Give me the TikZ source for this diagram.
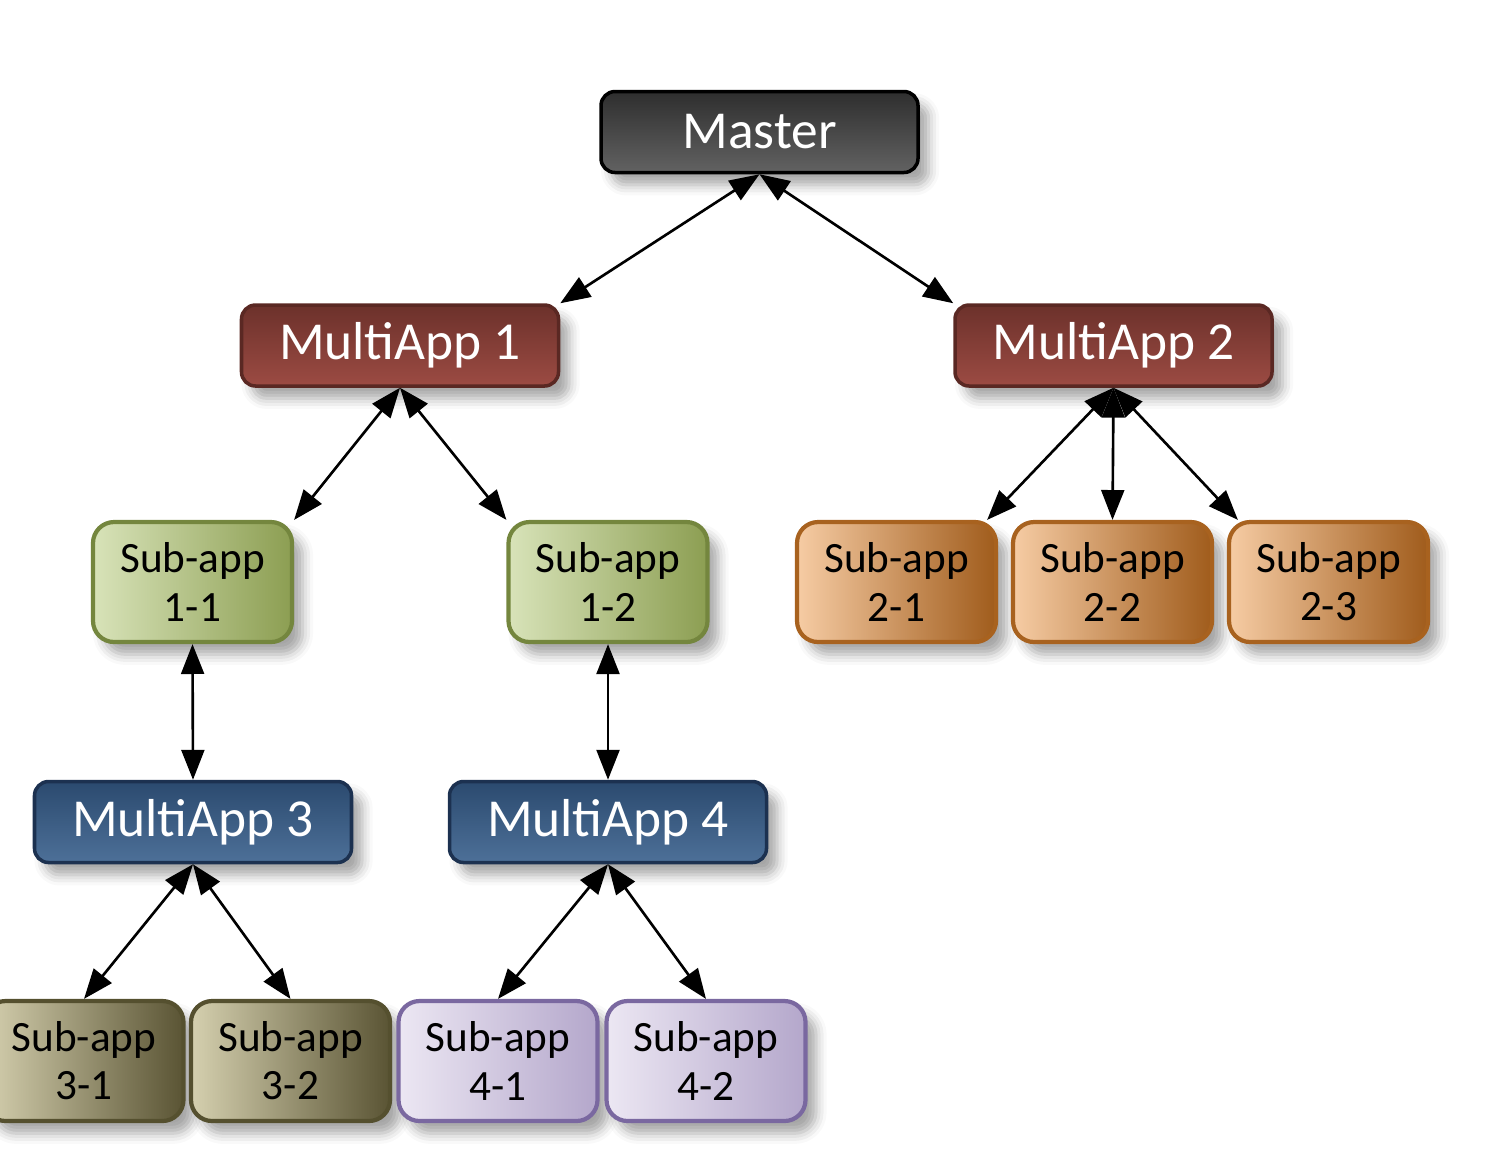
\documentclass[tikz,border=0pt]{standalone}
\usepackage{fontspec}
\setmainfont{Carlito}
\usepackage{tikz}
\usetikzlibrary{arrows.meta, shadows.blur}

\definecolor{mastertop}{HTML}{2E2E2E}
\definecolor{masterbot}{HTML}{626262}
\definecolor{redtop}{HTML}{6C312B}
\definecolor{redbot}{HTML}{9C4B43}
\definecolor{redline}{HTML}{5A2823}
\definecolor{bluetop}{HTML}{2B4A6F}
\definecolor{bluebot}{HTML}{4D7098}
\definecolor{blueline}{HTML}{1C3150}
\definecolor{greenl}{HTML}{D8E3B9}
\definecolor{greenr}{HTML}{8C9E52}
\definecolor{greenline}{HTML}{74863E}
\definecolor{orangel}{HTML}{F6CCA4}
\definecolor{oranger}{HTML}{A05C1C}
\definecolor{orangeline}{HTML}{A8621F}
\definecolor{khakil}{HTML}{D5D0AF}
\definecolor{khakir}{HTML}{5A5434}
\definecolor{khakiline}{HTML}{55502F}
\definecolor{lavl}{HTML}{ECE7F3}
\definecolor{lavr}{HTML}{B4A7CB}
\definecolor{lavline}{HTML}{7A68A0}

\begin{document}
\begin{tikzpicture}[
  box/.style={draw, rounded corners=4pt, line width=1pt,
    blur shadow={shadow xshift=3pt, shadow yshift=-3.5pt,
      shadow blur radius=3pt, shadow opacity=35}},
  appbox/.style={box, minimum width=3.17cm, minimum height=0.81cm,
    text=white, font=\fontsize{15.2}{17}\selectfont, inner sep=0pt},
  masterbox/.style={appbox, draw=black, top color=mastertop, bottom color=masterbot},
  redbox/.style={appbox, draw=redline, top color=redtop, bottom color=redbot},
  bluebox/.style={appbox, draw=blueline, top color=bluetop, bottom color=bluebot},
  subbox/.style={box, rounded corners=6pt, line width=1.2pt,
    minimum width=1.99cm, minimum height=1.2cm, align=center,
    font=\fontsize{12.3}{13.7}\selectfont, inner sep=0pt},
  greenbox/.style={subbox, draw=greenline, left color=greenl, middle color=greenl!85!greenr, right color=greenr},
  orangebox/.style={subbox, draw=orangeline, left color=orangel, middle color=orangel!80!oranger, right color=oranger},
  khakibox/.style={subbox, draw=khakiline, left color=khakil, middle color=khakil!85!khakir, right color=khakir},
  lavbox/.style={subbox, draw=lavline, left color=lavl, middle color=lavl!75!lavr, right color=lavr},
  link/.style={{Triangle[length=8.5pt,width=6.5pt]}-{Triangle[length=8.5pt,width=6.5pt]}, line width=0.75pt}
]
\useasboundingbox (0,0) rectangle (15.08,-11.54);

\node at (7.595,-1.32) (master) [masterbox] {Master};

\node at (4.00,-3.455) (ma1) [redbox] {MultiApp 1};
\node at (11.135,-3.455) (ma2) [redbox] {MultiApp 2};

\node at (1.925,-5.82) (sa11) [greenbox] {Sub-app\\1-1};
\node at (6.08,-5.82) (sa12) [greenbox] {Sub-app\\1-2};

\node at (8.965,-5.82) (sa21) [orangebox] {Sub-app\\2-1};
\node at (11.125,-5.82) (sa22) [orangebox] {Sub-app\\2-2};
\node at (13.285,-5.82) (sa23) [orangebox] {Sub-app\\2-3};

\node at (1.93,-8.22) (ma3) [bluebox] {MultiApp 3};
\node at (6.08,-8.22) (ma4) [bluebox] {MultiApp 4};

\node at (0.84,-10.61) (sa31) [khakibox] {Sub-app\\3-1};
\node at (2.905,-10.61) (sa32) [khakibox] {Sub-app\\3-2};
\node at (4.98,-10.61) (sa41) [lavbox] {Sub-app\\4-1};
\node at (7.06,-10.61) (sa42) [lavbox] {Sub-app\\4-2};

\draw[link] (master.south) -- (ma1.north east);
\draw[link] (master.south) -- (ma2.north west);

\draw[link] (ma1.south) -- (sa11.north east);
\draw[link] (ma1.south) -- (sa12.north west);

\draw[link] (ma2.south) -- ([xshift=-0.11cm]sa21.north east);
\draw[link] (ma2.south) -- (sa22.north);
\draw[link] (ma2.south) -- ([xshift=0.11cm]sa23.north west);

\draw[link] (sa11.south) -- (ma3.north);
\draw[link] (sa12.south) -- (ma4.north);

\draw[link] (ma3.south) -- (sa31.north);
\draw[link] (ma3.south) -- (sa32.north);
\draw[link] (ma4.south) -- (sa41.north);
\draw[link] (ma4.south) -- (sa42.north);
\end{tikzpicture}
\end{document}
